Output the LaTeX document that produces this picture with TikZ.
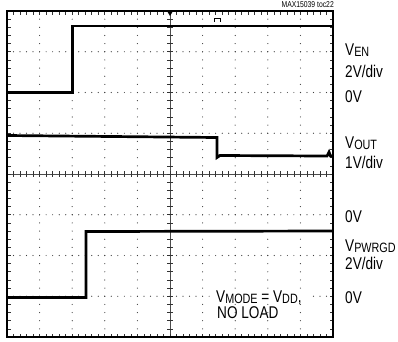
\documentclass[tikz,border=0pt]{standalone}
\usepackage{fontspec}
\setmainfont{Liberation Sans}[FakeStretch=0.8]
\newcommand\sbs[1]{\raisebox{-1pt}{\fontsize{13.5}{13.5}\selectfont #1}}
\begin{document}
\begin{tikzpicture}[x=1pt,y=-1pt,
  lbl/.style={anchor=base west,inner sep=0pt,font=\fontsize{17}{17}\selectfont},
  trace/.style={line width=2.7pt,line join=miter},
  gdot/.style={fill=black!75},
  tick/.style={line width=0.7pt,black!80}]
\useasboundingbox (0,0) rectangle (398,341);
\def\L{7}\def\R{333}\def\T{11}\def\B{337}
% vertical dotted grid lines
\foreach \i in {1,2,3,4,6,7,8,9}{
  \foreach \j in {1,...,39}{
    \fill[gdot] ({\L+32.6*\i},{\T+8.15*\j}) circle (0.6pt);
  }
}
% horizontal dotted grid lines
\foreach \j in {1,2,3,5,6,7}{
  \foreach \k in {1,...,49}{
    \fill[gdot] ({\L+6.52*\k},{\T+40.75*\j}) circle (0.6pt);
  }
}
% centre axes with ticks
\draw[line width=0.5pt,black!70] (170,\T) -- (170,\B);
\draw[line width=0.5pt,black!70] (\L,174) -- (\R,174);
\foreach \j in {1,...,39}{
  \draw[tick] (167,{\T+8.15*\j}) -- (173,{\T+8.15*\j});
}
\foreach \k in {1,...,49}{
  \draw[tick] ({\L+6.52*\k},171) -- ({\L+6.52*\k},177);
}
% border ticks
\foreach \k in {1,...,49}{
  \draw[tick] ({\L+6.52*\k},\T) -- ({\L+6.52*\k},{\T+3.5});
  \draw[tick] ({\L+6.52*\k},\B) -- ({\L+6.52*\k},{\B-3.5});
}
\foreach \j in {1,...,39}{
  \draw[tick] (\L,{\T+8.15*\j}) -- ({\L+3.5},{\T+8.15*\j});
  \draw[tick] (\R,{\T+8.15*\j}) -- ({\R-3.5},{\T+8.15*\j});
}
% traces
\draw[trace] (\L,92.5) -- (72.2,92.5) -- (72.2,26) -- (\R,26);
\draw[trace] (\L,135.5) -- (217,137.5) -- (217,157.5) -- (220,155.5) -- (327,156) -- (329,152) -- (330.5,156) -- (\R,156);
\draw[trace] (\L,297.5) -- (86,297.5) -- (86,231.5) -- (\R,231);
% trigger markers
\fill (167,11) -- (173,11) -- (170,16) -- cycle;
\draw[line width=0.8pt] (214,22) -- (214,18) -- (220,18) -- (220,22);
% white gap behind the inside label
\fill[white] (213,292) rectangle (310,300);
% border
\draw[line width=2.3pt] (\L,\T) rectangle (\R,\B);
% labels
\node[anchor=base east,inner sep=0pt,font=\fontsize{8.5}{8.5}\selectfont] (ttl) at (334,7.5) {MAX15039 toc22};
\node[lbl] (ven) at (345,55) {V\sbs{EN}};
\node[lbl] (ven2) at (345,77) {2V/div};
\node[lbl] (ven0) at (345,102) {0V};
\node[lbl] (vout) at (345,148) {V\sbs{OUT}};
\node[lbl] (vout2) at (345,168) {1V/div};
\node[lbl] (vout0) at (345,222) {0V};
\node[lbl] (vpg) at (345,251) {V\sbs{PWRGD}};
\node[lbl] (vpg2) at (345,269) {2V/div};
\node[lbl] (vpg0) at (345,303) {0V};
\node[lbl] (mode) at (216,302) {V\sbs{MODE} = V\sbs{DD},};
\node[lbl] (load) at (217,318) {NO LOAD};
\end{tikzpicture}
\end{document}
